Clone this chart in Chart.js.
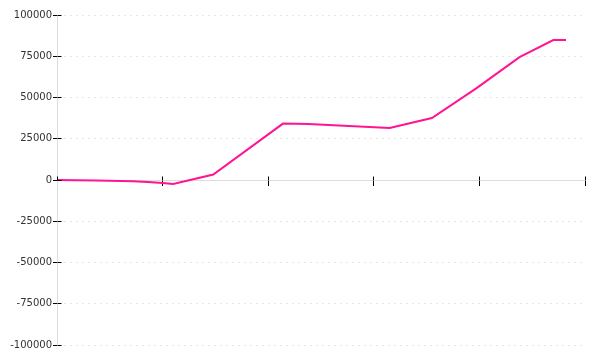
<!DOCTYPE html>
<html>
<head>
<meta charset="utf-8">
<script src="https://cdn.jsdelivr.net/npm/chart.js@4"></script>
<style>
  html, body { margin: 0; padding: 0; background: #fff; }
  #wrap { width: 600px; height: 360px; }
</style>
</head>
<body>
<div id="wrap"><canvas id="c" width="600" height="360"></canvas></div>
<script>
// Data (x in axis units 0..5, y values)
const xValues = [0, 0.38, 0.72, 0.86, 1.0, 1.10, 1.48, 2.14, 2.38, 3.15, 3.55, 3.97, 4.38, 4.70, 4.82];
const yValues = [0, -300, -700, -1200, -1800, -2400, 3300, 34200, 34000, 31500, 37600, 55500, 74500, 84800, 84800];
const xTickValues = [0, 1, 2, 3, 4, 5];
const yTickValues = [-100000, -75000, -50000, -25000, 0, 25000, 50000, 75000, 100000];

const points = xValues.map((x, i) => ({ x: x, y: yValues[i] }));

const AXIS_GREY = '#dddddd';
const GRID_GREY = '#e6e6e6';
const TICK_BLACK = '#000000';
const LINE_PINK = '#ff1493';

const yMin = yTickValues[0], yMax = yTickValues[yTickValues.length - 1];
const xMin = xTickValues[0], xMax = xTickValues[xTickValues.length - 1];

// same pixel alignment Chart.js uses for 1px lines
const align = p => Math.round(p - 0.5) + 0.5;

// Inner halves of the tick marks (the marks cross their axis line)
const innerTicks = {
  id: 'innerTicks',
  afterDraw(chart) {
    const ctx = chart.ctx;
    const xs = chart.scales.x, ys = chart.scales.y;
    const y0 = align(ys.getPixelForValue(0));
    const x0 = align(xs.getPixelForValue(xMin));
    ctx.save();
    ctx.strokeStyle = TICK_BLACK;
    ctx.lineWidth = 1;
    ctx.beginPath();
    xs.ticks.forEach(t => {
      const px = align(xs.getPixelForValue(t.value));
      ctx.moveTo(px, y0);
      ctx.lineTo(px, y0 - 4);
    });
    ys.ticks.forEach(t => {
      const py = align(ys.getPixelForValue(t.value));
      ctx.moveTo(x0, py);
      ctx.lineTo(x0 + 4, py);
    });
    ctx.stroke();
    ctx.restore();
  }
};

new Chart(document.getElementById('c'), {
  type: 'line',
  data: {
    datasets: [{
      data: points,
      borderColor: LINE_PINK,
      backgroundColor: LINE_PINK,
      borderWidth: 2,
      pointRadius: 0,
      tension: 0,
      fill: false
    }]
  },
  options: {
    responsive: false,
    animation: false,
    events: [],
    layout: { padding: { top: 15, right: 15, bottom: 15, left: 0 } },
    plugins: { legend: { display: false }, tooltip: { enabled: false } },
    scales: {
      x: {
        type: 'linear',
        min: xMin, max: xMax,
        position: { y: 0 },
        afterBuildTicks: s => { s.ticks = xTickValues.map(v => ({ value: v })); },
        ticks: { display: false },
        grid: { drawOnChartArea: false, drawTicks: true, tickLength: 5, tickColor: TICK_BLACK, tickWidth: 1 },
        border: { display: true, color: AXIS_GREY, width: 1 }
      },
      y: {
        type: 'linear',
        min: yMin, max: yMax,
        position: 'left',
        afterFit: s => { s.width = 57; },
        afterBuildTicks: s => { s.ticks = yTickValues.map(v => ({ value: v })); },
        ticks: {
          padding: 1,
          color: '#333333',
          font: { family: 'DejaVu Sans', size: 10 },
          callback: v => String(v)
        },
        grid: {
          drawOnChartArea: true,
          color: GRID_GREY,
          lineWidth: 1,
          drawTicks: true,
          tickLength: 4,
          tickColor: TICK_BLACK,
          tickWidth: 1,
          tickBorderDash: []
        },
        border: { display: true, color: AXIS_GREY, width: 1, dash: [2, 4] }
      }
    }
  },
  plugins: [innerTicks]
});
</script>
</body>
</html>
